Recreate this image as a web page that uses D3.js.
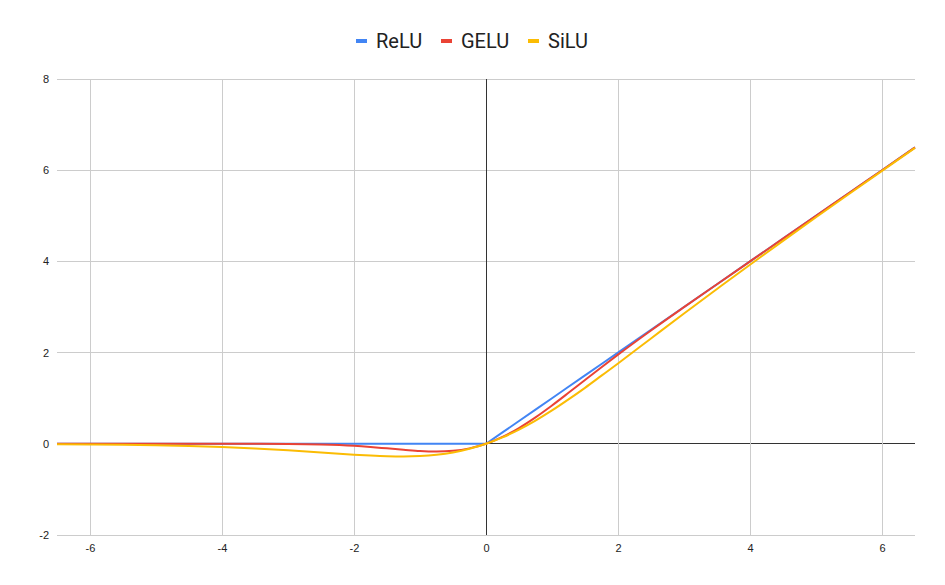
<!DOCTYPE html>
<html><head><meta charset="utf-8">
<script src="https://cdn.jsdelivr.net/npm/d3@7"></script>
<style>body{margin:0;background:#fff;} svg{display:block;font-family:Roboto, Arial, sans-serif;}</style>
</head><body>
<svg id="c" width="945" height="585"></svg>
<script>
const seriesNames = ["ReLU", "GELU", "SiLU"];
const seriesColors = ["#4285F4", "#EA4335", "#FBBC04"];
const xValues = [-6.5,-6,-5.5,-5,-4.5,-4,-3.5,-3,-2.5,-2,-1.75,-1.5,-1.25,-1,-0.75,-0.5,-0.25,0,0.25,0.5,0.75,1,1.25,1.5,1.75,2,2.5,3,3.5,4,4.5,5,5.5,6,6.5];
const reluValues = [0,0,0,0,0,0,0,0,0,0,0,0,0,0,0,0,0,0,0.25,0.5,0.75,1,1.25,1.5,1.75,2,2.5,3,3.5,4,4.5,5,5.5,6,6.5];
const geluValues = [0,0,0,0,0,0,-0.001,-0.004,-0.016,-0.045,-0.07,-0.10,-0.13,-0.159,-0.17,-0.154,-0.10,0,0.15,0.346,0.58,0.841,1.118,1.40,1.68,1.955,2.485,2.996,3.499,4,4.5,5,5.5,6,6.5];
const siluValues = [-0.01,-0.015,-0.022,-0.034,-0.05,-0.072,-0.102,-0.142,-0.19,-0.238,-0.258,-0.273,-0.279,-0.269,-0.24,-0.189,-0.11,0,0.14,0.311,0.508,0.731,0.973,1.227,1.494,1.762,2.31,2.858,3.395,3.928,4.451,4.967,5.478,5.985,6.49];
const xTicks = [-6,-4,-2,0,2,4,6];
const yTicks = [-2,0,2,4,6,8];

const series = [reluValues, geluValues, siluValues];
const svg = d3.select("#c");
const x = d3.scaleLinear().domain([-6.5, 6.5]).range([57, 915]);
const y = d3.scaleLinear().domain([-2, 8]).range([535, 79]);

// grid
svg.append("g").selectAll("line").data(yTicks).join("line")
  .attr("x1", x(-6.5)).attr("x2", x(6.5))
  .attr("y1", d => y(d)).attr("y2", d => y(d))
  .attr("stroke", d => d === 0 ? "#333" : "#ccc").attr("stroke-width", 1)
  .attr("shape-rendering", "crispEdges");
svg.append("g").selectAll("line").data(xTicks).join("line")
  .attr("y1", y(-2)).attr("y2", y(8))
  .attr("x1", d => x(d)).attr("x2", d => x(d))
  .attr("stroke", d => d === 0 ? "#333" : "#ccc").attr("stroke-width", 1)
  .attr("shape-rendering", "crispEdges");

const fmt = d => String(d);
const yAxis = svg.append("g").attr("transform", `translate(${x(-6.5)},0)`)
  .call(d3.axisLeft(y).tickValues(yTicks).tickSize(0).tickPadding(8).tickFormat(fmt));
yAxis.select(".domain").remove();
yAxis.selectAll("text").attr("font-size", 11).attr("fill", "#222").attr("font-family", "Arial, 'Liberation Sans', sans-serif");
const xAxis = svg.append("g").attr("transform", `translate(0,${y(-2)})`)
  .call(d3.axisBottom(x).tickValues(xTicks).tickSize(0).tickPadding(9).tickFormat(fmt));
xAxis.select(".domain").remove();
xAxis.selectAll("text").attr("font-size", 11).attr("fill", "#222").attr("font-family", "Arial, 'Liberation Sans', sans-serif");

// lines
series.forEach((vals, k) => {
  const line = d3.line().x((d, i) => x(xValues[i])).y(d => y(d))
    .curve(k === 0 ? d3.curveLinear : d3.curveMonotoneX);
  svg.append("path").datum(vals).attr("d", line)
    .attr("fill", "none").attr("stroke", seriesColors[k]).attr("stroke-width", 2)
    .attr("stroke-linejoin", "round");
});

// legend
const legendX = [356, 441, 528];
const lg = svg.append("g");
seriesNames.forEach((n, k) => {
  lg.append("line").attr("x1", legendX[k]).attr("x2", legendX[k] + 11)
    .attr("y1", 41).attr("y2", 41).attr("stroke", seriesColors[k]).attr("stroke-width", 4);
  lg.append("text").attr("x", legendX[k] + 20).attr("y", 48).text(n)
    .attr("font-size", 20).attr("fill", "#222");
});
</script>
</body></html>
